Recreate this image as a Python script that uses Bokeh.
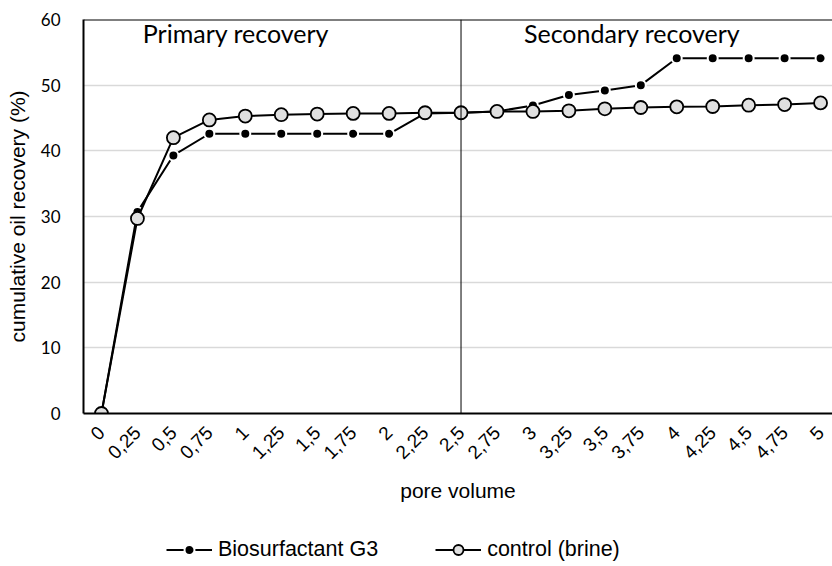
import math
from bokeh.plotting import figure
from bokeh.layouts import column
from bokeh.models import Range1d, FixedTicker, Span, Legend, LegendItem, Label
from bokeh.embed import file_html
from bokeh.resources import INLINE

pore_volume = [0, 0.25, 0.5, 0.75, 1, 1.25, 1.5, 1.75, 2, 2.25, 2.5,
               2.75, 3, 3.25, 3.5, 3.75, 4, 4.25, 4.5, 4.75, 5]
tick_labels = ["0", "0,25", "0,5", "0,75", "1", "1,25", "1,5", "1,75", "2", "2,25", "2,5",
               "2,75", "3", "3,25", "3,5", "3,75", "4", "4,25", "4,5", "4,75", "5"]
biosurfactant_g3 = [0, 30.7, 39.3, 42.6, 42.6, 42.6, 42.6, 42.6, 42.6, 45.7, 45.8,
                    46.0, 46.9, 48.5, 49.2, 50.0, 54.1, 54.1, 54.1, 54.1, 54.1]
control_brine = [0, 29.7, 42.0, 44.7, 45.3, 45.5, 45.6, 45.7, 45.7, 45.8, 45.8,
                 46.0, 46.0, 46.1, 46.4, 46.6, 46.7, 46.75, 46.95, 47.05, 47.3]
series_names = ["Biosurfactant G3", "control (brine)"]
y_ticks = [0, 10, 20, 30, 40, 50, 60]
phase_labels = ["Primary recovery", "Secondary recovery"]
phase_x = [0.935, 3.69]
phase_y = 57.9
phase_boundary = 2.5

ARIAL = "Liberation Sans"
CALIBRI = "Lato"

BIO_LINE = dict(line_color="black", line_width=2)
BIO_MARK = dict(size=10, marker="circle", fill_color="black", line_color="white", line_width=2)
CTL_LINE = dict(line_color="black", line_width=2)
CTL_MARK = dict(size=13, marker="circle", fill_color="#e0e0e0", line_color="black", line_width=1.8)

p = figure(width=832, height=525, output_backend="svg", toolbar_location=None,
           x_range=Range1d(-0.125, 5.083), y_range=Range1d(0, 60),
           min_border_left=83, min_border_top=19, min_border_right=0, min_border_bottom=112)
p.outline_line_color = None
p.background_fill_color = "white"
p.border_fill_color = "white"

p.xgrid.grid_line_color = None
p.ygrid.grid_line_color = "#d9d9d9"
p.ygrid.grid_line_width = 1.5
p.yaxis.ticker = FixedTicker(ticks=y_ticks)
p.xaxis.ticker = FixedTicker(ticks=pore_volume)
p.xaxis.major_label_overrides = {v: t for v, t in zip(pore_volume, tick_labels)}

for ax in (p.xaxis[0], p.yaxis[0]):
    ax.axis_line_color = "black"
    ax.axis_line_width = 2
    ax.major_tick_line_color = None
    ax.minor_tick_line_color = None
    ax.axis_label_text_font_style = "normal"
    ax.axis_label_text_color = "black"
    ax.major_label_text_color = "black"

p.xaxis.major_label_orientation = math.pi / 4
p.xaxis.major_label_text_font = ARIAL
p.xaxis.major_label_text_font_size = "19px"
p.xaxis.major_label_standoff = 10
p.xaxis.axis_label = "pore volume"
p.xaxis.axis_label_text_font = ARIAL
p.xaxis.axis_label_text_font_size = "21px"
p.xaxis.axis_label_standoff = 11

p.yaxis.major_label_text_font = CALIBRI
p.yaxis.major_label_text_font_size = "17px"
p.yaxis.major_label_standoff = 17
p.yaxis.axis_label = "cumulative oil recovery (%)"
p.yaxis.axis_label_text_font = ARIAL
p.yaxis.axis_label_text_font_size = "21px"
p.yaxis.axis_label_standoff = 9

p.add_layout(Span(location=60, dimension="width", line_color="black", line_width=2))
p.add_layout(Span(location=phase_boundary, dimension="height", line_color="black", line_width=1))

p.line(pore_volume, biosurfactant_g3, **BIO_LINE)
p.scatter(pore_volume, biosurfactant_g3, **BIO_MARK)
p.line(pore_volume, control_brine, **CTL_LINE)
p.scatter(pore_volume, control_brine, **CTL_MARK)

for lx, lt in zip(phase_x, phase_labels):
    p.add_layout(Label(x=lx, y=phase_y, text=lt, text_align="center",
                       text_baseline="alphabetic", text_font=CALIBRI,
                       text_font_size="25px", text_color="black"))

# legend strip below the chart; its glyph renderers hold the series' first
# points placed outside the strip's view so only the legend shows them
q = figure(width=832, height=41, output_backend="svg", toolbar_location=None,
           x_range=Range1d(100, 101), y_range=Range1d(100, 101),
           x_axis_type=None, y_axis_type=None, min_border=0)
q.outline_line_color = None
q.grid.visible = False
ql1 = q.line(pore_volume[:2], biosurfactant_g3[:2], **BIO_LINE)
qs1 = q.scatter(pore_volume[:2], biosurfactant_g3[:2], **BIO_MARK)
ql2 = q.line(pore_volume[:2], control_brine[:2], **CTL_LINE)
qs2 = q.scatter(pore_volume[:2], control_brine[:2], **CTL_MARK)
legend = Legend(items=[LegendItem(label=series_names[0], renderers=[ql1, qs1]),
                       LegendItem(label=series_names[1], renderers=[ql2, qs2])],
                orientation="horizontal", location=(83, 4),
                label_text_font=ARIAL, label_text_font_size="21.5px",
                label_text_color="black",
                glyph_width=46, glyph_height=25, spacing=57,
                background_fill_alpha=0, border_line_color=None,
                label_standoff=6, padding=0, margin=0)
q.add_layout(legend, "center")

layout = column(p, q, spacing=0)
open("out.html", "w").write(file_html(layout, INLINE))
